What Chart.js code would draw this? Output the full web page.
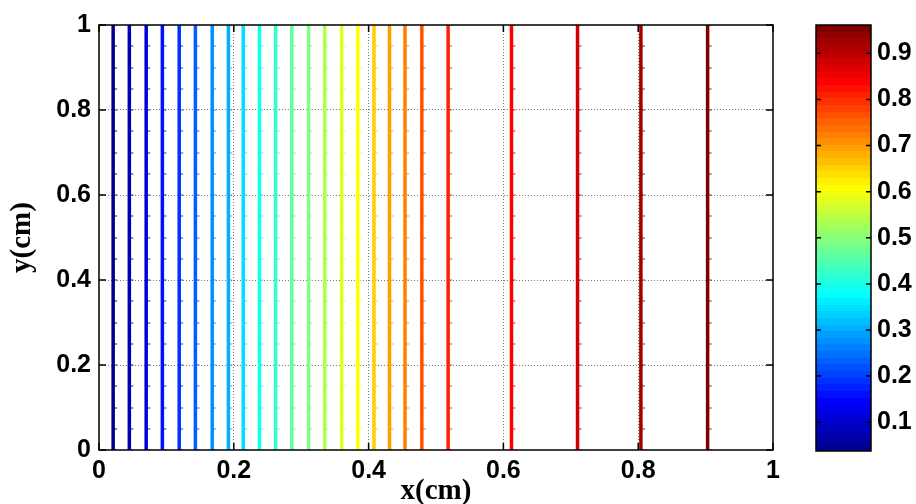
<!DOCTYPE html>
<html>
<head>
<meta charset="utf-8">
<script src="https://cdn.jsdelivr.net/npm/chart.js@4.4.1/dist/chart.umd.min.js"></script>
<style>
  html, body { margin: 0; padding: 0; background: #fff; }
  #wrap { position: relative; width: 916px; height: 504px; }
  #main { position: absolute; left: 0; top: 0; }
  #cbar { position: absolute; left: 800px; top: 0; }
</style>
</head>
<body>
<div id="wrap">
  <canvas id="main" width="916" height="504"></canvas>
  <canvas id="cbar" width="116" height="504"></canvas>
</div>
<script>
// x position (cm) of each contour line and its level
let lineX = [0.021, 0.045, 0.070, 0.094, 0.119, 0.143, 0.168, 0.192, 0.214, 0.238,
             0.262, 0.286, 0.311, 0.335, 0.360, 0.384, 0.408, 0.431, 0.454, 0.479,
             0.518, 0.612, 0.710, 0.804, 0.903];
let lineLevel = [0.0376, 0.0761, 0.1146, 0.1531, 0.1916, 0.2301, 0.2686, 0.3071, 0.3456, 0.3841,
                 0.4226, 0.4610, 0.4995, 0.5380, 0.5765, 0.6150, 0.6535, 0.6920, 0.7305, 0.7690,
                 0.8075, 0.8460, 0.8845, 0.9230, 0.9615];
// mesh nodes along y where each contour line has a vertex
let meshY = [0, 0.05, 0.1, 0.15, 0.2, 0.25, 0.3, 0.35, 0.4, 0.45, 0.5,
             0.55, 0.6, 0.65, 0.7, 0.75, 0.8, 0.85, 0.9, 0.95, 1];
let xTicks = [0, 0.2, 0.4, 0.6, 0.8, 1];
let yTicks = [0, 0.2, 0.4, 0.6, 0.8, 1];
let cbarTicks = [0.1, 0.2, 0.3, 0.4, 0.5, 0.6, 0.7, 0.8, 0.9];
let cMin = 0.0376, cMax = 0.9615;

const tickFont = { family: "'Liberation Sans', Arial, sans-serif", weight: 'bold', size: 25 };
const titleFont = { family: "'Liberation Serif', 'Times New Roman', serif", weight: 'bold', size: 29 };

// MATLAB jet(64), i = 1..64
function jetColor(i) {
    const u = k => (k < 1 || k > 47) ? 0 : (k <= 16 ? k / 16 : (k <= 31 ? 1 : (48 - k) / 16));
    const r = u(i - 24), g = u(i - 8), b = u(i + 8);
    return `rgb(${Math.round(r * 255)},${Math.round(g * 255)},${Math.round(b * 255)})`;
}

function levelColor(level) {
    let idx = Math.floor((level - cMin) / (cMax - cMin) * 64) + 1;
    return jetColor(Math.max(1, Math.min(64, idx)));
}

// little stub drawn at each vertex, to the right of the line
function stubImage(color) {
    let c = document.createElement('canvas');
    c.width = 14; c.height = 2;
    let g = c.getContext('2d');
    g.globalAlpha = 0.45;
    g.fillStyle = color;
    g.fillRect(8, 0, 3, 2);
    return c;
}

const fixedTicks = list => scale => { scale.ticks = list.map(v => ({ value: v })); };

// box around the axes and inward tick marks on all four sides
const boxTicks = {
    id: 'boxTicks',
    afterDraw(chart) {
        const { ctx, chartArea: a, scales } = chart;
        ctx.save();
        ctx.strokeStyle = '#000';
        ctx.lineWidth = 1.5;
        ctx.strokeRect(a.left, a.top, a.right - a.left, a.bottom - a.top);
        ctx.beginPath();
        xTicks.forEach(v => {
            let px = scales.x.getPixelForValue(v);
            ctx.moveTo(px, a.bottom); ctx.lineTo(px, a.bottom - 7);
            ctx.moveTo(px, a.top); ctx.lineTo(px, a.top + 7);
        });
        yTicks.forEach(v => {
            let py = scales.y.getPixelForValue(v);
            ctx.moveTo(a.left, py); ctx.lineTo(a.left + 7, py);
            ctx.moveTo(a.right, py); ctx.lineTo(a.right - 7, py);
        });
        ctx.stroke();
        ctx.restore();
    }
};

let datasets = lineX.map((x, i) => {
    let color = levelColor(lineLevel[i]);
    return {
        label: 'level ' + lineLevel[i],
        data: meshY.map(y => ({ x: x, y: y })),
        borderColor: color,
        borderWidth: 3.5,
        showLine: true,
        pointStyle: stubImage(color),
        pointRadius: 3
    };
});

const gridColor = ctx => (ctx.tick.value === 0 || ctx.tick.value === 1) ? 'rgba(0,0,0,0)' : '#777';

new Chart(document.getElementById('main'), {
    type: 'scatter',
    data: { datasets: datasets },
    options: {
        responsive: false,
        animation: false,
        events: [],
        layout: { padding: { left: 0, top: 25, right: 143, bottom: 0 } },
        plugins: { legend: { display: false }, tooltip: { enabled: false } },
        scales: {
            x: {
                type: 'linear', min: 0, max: 1,
                afterBuildTicks: fixedTicks(xTicks),
                afterFit(s) { s.height = 54; },
                grid: { color: gridColor, drawTicks: false, lineWidth: 1 },
                border: { display: false, dash: [1, 2] },
                ticks: { padding: 6, color: '#000', font: tickFont, maxRotation: 0, callback: v => String(v) },
                title: { display: true, text: 'x(cm)', color: '#000', padding: { top: 0, bottom: 0 },
                         font: Object.assign({ lineHeight: 0.85 }, titleFont) }
            },
            y: {
                type: 'linear', min: 0, max: 1,
                afterBuildTicks: fixedTicks(yTicks),
                afterFit(s) { s.width = 99; },
                grid: { color: gridColor, drawTicks: false, lineWidth: 1 },
                border: { display: false, dash: [1, 2] },
                ticks: { padding: 8, color: '#000', font: tickFont, callback: v => String(v) },
                title: { display: true, text: 'y(cm)', color: '#000', padding: { top: 8, bottom: 0 },
                         font: Object.assign({ lineHeight: 1 }, titleFont) }
            }
        }
    },
    plugins: [boxTicks]
});

// colour bar: one floating bar filled with the 64 jet bands
function bandGradient(chart) {
    if (!chart.chartArea) return '#000';
    let y = chart.scales.y;
    let y0 = y.getPixelForValue(cMin), y1 = y.getPixelForValue(cMax);
    let grad = chart.ctx.createLinearGradient(0, y0, 0, y1);
    for (let i = 0; i < 64; i++) {
        grad.addColorStop(i / 64, jetColor(i + 1));
        grad.addColorStop((i + 1) / 64, jetColor(i + 1));
    }
    return grad;
}

const cbarFrame = {
    id: 'cbarFrame',
    afterDraw(chart) {
        const { ctx, chartArea: a, scales } = chart;
        ctx.save();
        ctx.strokeStyle = '#000';
        ctx.lineWidth = 1.5;
        ctx.strokeRect(a.left, a.top, a.right - a.left, a.bottom - a.top);
        ctx.beginPath();
        cbarTicks.forEach(v => {
            let py = scales.y.getPixelForValue(v);
            ctx.moveTo(a.left, py); ctx.lineTo(a.left + 5, py);
            ctx.moveTo(a.right, py); ctx.lineTo(a.right - 5, py);
        });
        ctx.stroke();
        ctx.restore();
    }
};

new Chart(document.getElementById('cbar'), {
    type: 'bar',
    data: {
        labels: [''],
        datasets: [{
            data: [[cMin, cMax]],
            backgroundColor: ctx => bandGradient(ctx.chart),
            borderWidth: 0,
            barPercentage: 1,
            categoryPercentage: 1
        }]
    },
    options: {
        responsive: false,
        animation: false,
        events: [],
        layout: { padding: { left: 16, top: 25, right: 0, bottom: 53 } },
        plugins: { legend: { display: false }, tooltip: { enabled: false } },
        scales: {
            x: { display: false },
            y: {
                position: 'right', min: cMin, max: cMax, stacked: false,
                afterBuildTicks: fixedTicks(cbarTicks),
                afterFit(s) { s.width = 45; },
                grid: { display: false, drawTicks: false },
                border: { display: false },
                ticks: { padding: 6, color: '#000', font: tickFont, callback: v => String(v) }
            }
        }
    },
    plugins: [cbarFrame]
});
</script>
</body>
</html>
